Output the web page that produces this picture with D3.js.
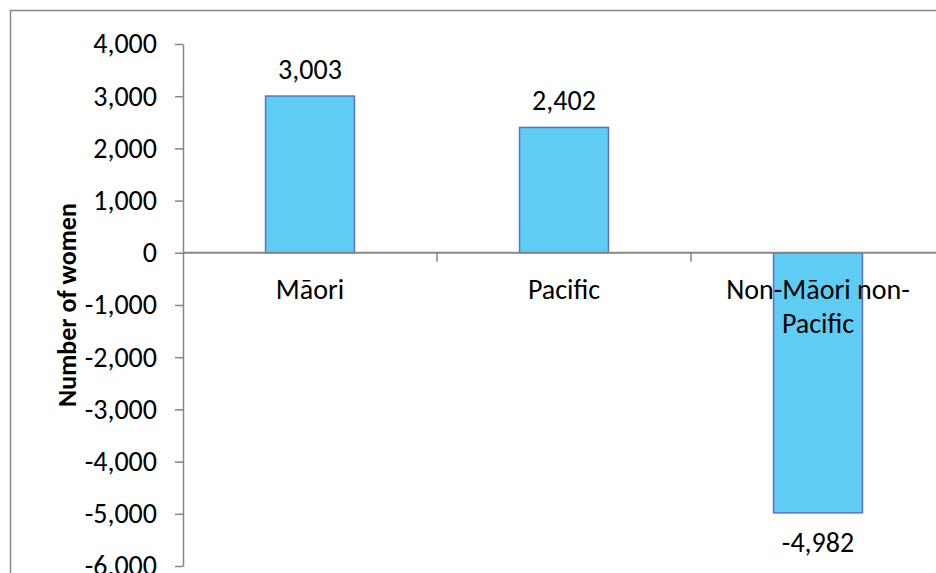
<!DOCTYPE html>
<html>
<head>
<meta charset="utf-8">
<script src="https://cdn.jsdelivr.net/npm/d3@7"></script>
<style>
  html, body { margin: 0; padding: 0; background: #fff; }
  svg { display: block; }
  text { font-family: Carlito, Calibri, Lato, sans-serif; fill: #000; }
</style>
</head>
<body>
<script>
// data
var categories = ['Māori', 'Pacific', 'Non-Māori non-Pacific'];
var values = [3003, 2402, -4982];
var yTicks = [-6000, -5000, -4000, -3000, -2000, -1000, 0, 1000, 2000, 3000, 4000];
var yTitle = 'Number of women';

var width = 936, height = 573;
var plot = { left: 183, right: 945, top: 44, bottom: 566 };   // plot runs off the right edge like the screenshot
var fontSize = 28;
var labelMaxW = 200;   // category labels wrap past this width

// plain hyphen for negatives, like the original
var fmt = d3.formatLocale({ decimal: '.', thousands: ',', grouping: [3], currency: ['', ''], minus: '-' }).format(',');

var svg = d3.select('body').append('svg')
    .attr('width', width)
    .attr('height', height);

// outer chart border (right/bottom sides are cut off)
svg.append('rect')
    .attr('x', 10.5).attr('y', 10.5)
    .attr('width', 1000).attr('height', 1000)
    .attr('fill', 'none')
    .attr('stroke', '#878787')
    .attr('stroke-width', 1.5);

var yScale = d3.scaleLinear().domain([-6000, 4000]).range([plot.bottom, plot.top]);
var xScale = d3.scaleBand().domain(categories).range([plot.left, plot.right]).padding(0);
var barW = xScale.bandwidth() * 0.35;

// y axis
var yAxis = d3.axisLeft(yScale)
    .tickValues(yTicks)
    .tickFormat(fmt)
    .tickSize(8)
    .tickSizeOuter(0)
    .tickPadding(18);
var gy = svg.append('g').attr('transform', `translate(${plot.left},0)`).call(yAxis);
gy.select('.domain').attr('stroke', '#868686').attr('stroke-width', 1.5);
gy.selectAll('.tick line').attr('stroke', '#868686').attr('stroke-width', 1.5);
gy.selectAll('.tick text').style('font-size', fontSize + 'px').attr('fill', '#000');

// bars
svg.selectAll('rect.bar')
    .data(values)
    .enter()
    .append('rect')
    .attr('class', 'bar')
    .attr('x', (d, i) => xScale(categories[i]) + (xScale.bandwidth() - barW) / 2)
    .attr('y', d => yScale(Math.max(0, d)))
    .attr('width', barW)
    .attr('height', d => Math.abs(yScale(d) - yScale(0)))
    .attr('fill', '#5ECCF3')
    .attr('stroke', '#5A6FD0')
    .attr('stroke-width', 1.5);

// x axis at zero, ticks at category boundaries
var xAxisLine = svg.append('g');
xAxisLine.append('line')
    .attr('x1', plot.left).attr('x2', plot.right)
    .attr('y1', yScale(0)).attr('y2', yScale(0))
    .attr('stroke', '#868686').attr('stroke-width', 2);
xAxisLine.selectAll('line.xtick')
    .data(categories.slice(1))
    .enter()
    .append('line')
    .attr('class', 'xtick')
    .attr('x1', d => xScale(d)).attr('x2', d => xScale(d))
    .attr('y1', yScale(0)).attr('y2', yScale(0) + 9)
    .attr('stroke', '#868686').attr('stroke-width', 1.5);

// value labels
svg.selectAll('text.val')
    .data(values)
    .enter()
    .append('text')
    .attr('class', 'val')
    .attr('x', (d, i) => xScale(categories[i]) + xScale.bandwidth() / 2)
    .attr('y', d => d >= 0 ? yScale(d) - 27 : yScale(d) + 30)
    .attr('text-anchor', 'middle')
    .attr('dominant-baseline', 'central')
    .style('font-size', fontSize + 'px')
    .text(d => fmt(d));

// category labels, wrapped (break after spaces or hyphens)
var catLabels = svg.selectAll('text.cat')
    .data(categories)
    .enter()
    .append('text')
    .attr('class', 'cat')
    .attr('x', d => xScale(d) + xScale.bandwidth() / 2)
    .attr('y', yScale(0) + 36)
    .attr('text-anchor', 'middle')
    .attr('dominant-baseline', 'central')
    .style('font-size', fontSize + 'px');

catLabels.each(function(d) {
    var el = d3.select(this);
    var parts = d.match(/[^\s-]+-?\s?/g);
    var lines = [], cur = '';
    var probe = el.append('tspan');
    parts.forEach(function(p) {
        var test = cur + p;
        probe.text(test.trim());
        if (cur && probe.node().getComputedTextLength() > labelMaxW) {
            lines.push(cur.trim());
            cur = p;
        } else {
            cur = test;
        }
    });
    lines.push(cur.trim());
    probe.remove();
    lines.forEach(function(l, i) {
        el.append('tspan')
            .attr('x', el.attr('x'))
            .attr('dy', i === 0 ? 0 : 34)
            .text(l);
    });
});

// y axis title
svg.append('text')
    .attr('transform', `translate(67,${(plot.top + plot.bottom) / 2}) rotate(-90)`)
    .attr('text-anchor', 'middle')
    .attr('dominant-baseline', 'central')
    .style('font-size', '26px')
    .style('font-weight', 'bold')
    .text(yTitle);
</script>
</body>
</html>
